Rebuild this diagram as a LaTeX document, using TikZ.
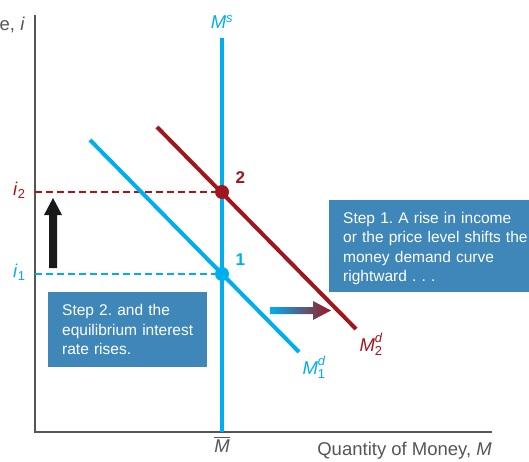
\documentclass[tikz,border=0pt]{standalone}
\usepackage{amsmath}
\usepackage{fontspec}
\setmainfont{Liberation Sans}
\usepackage{tikz}
\usetikzlibrary{positioning,arrows.meta}
\definecolor{sky}{HTML}{00AEEF}
\definecolor{wine}{HTML}{A0151E}
\definecolor{slate}{HTML}{3F87B8}
\definecolor{axisgray}{HTML}{555555}
\newcommand{\itl}[1]{\textit{#1}}
\frenchspacing

\tikzset{
  axisline/.style={line width=1.3pt, axisgray},
  curve/.style={line width=4pt},
  guide/.style={line width=1.2pt, dash pattern=on 7pt off 4pt},
  dot/.style={circle, inner sep=0pt, minimum size=14pt},
  stepbox/.style={fill=slate, text=white, align=left, anchor=north west, inner xsep=14pt, inner ysep=8pt, font=\fontsize{15.5}{19.5}\selectfont}
}

\begin{document}
\begin{tikzpicture}[x=1pt, y=-1pt, >=Latex, font=\fontsize{18.5}{22}\selectfont, node distance=3pt]
    \useasboundingbox (0,0) rectangle (529,462);
    % axes
    \coordinate (origin) at (35,432);
    \coordinate (ytop) at (35,15);
    \coordinate (xend) at (492,432);
    \draw[axisline] (ytop) -- (origin) -- (xend);
    \node[anchor=east, text=axisgray, inner xsep=1pt] (ylab) at (26,25) {e, \itl{i}};
    \node[anchor=east, text=axisgray, inner xsep=0pt] (xlab) at (492,451) {Quantity of Money, \itl{M}};

    % curves
    \coordinate (d1top) at (90,140);
    \coordinate (d1bot) at (299,352);
    \coordinate (d2top) at (157,127);
    \coordinate (d2bot) at (356,329);
    \coordinate (mstop) at (222,38);
    \coordinate (msbot) at (222,432);
    \node[dot] (p1) at (222,274) {};
    \node[dot] (p2) at (222,192) {};
    \draw[guide, wine!85!red] (origin |- p2) -- (p2);
    \draw[guide, sky] (origin |- p1) -- (p1);
    \draw[curve, sky] (d1top) -- (d1bot);
    \draw[curve, wine] (d2top) -- (d2bot);
    \draw[curve, sky] (mstop) -- (msbot);
    \node[dot, fill=sky] at (p1) {};
    \node[dot, fill=wine] at (p2) {};

    % labels
    \node[above=6pt of mstop, text=sky] (mslab) {\itl{M}\textsuperscript{\itl{s}}};
    \node[below=1pt of msbot, text=axisgray] (mbar) {$\overline{\itl{M}}$};
    \node[anchor=east, text=wine!85!red] (i2lab) at (29,190) {\itl{i}\textsubscript{2}};
    \node[anchor=east, text=sky] (i1lab) at (29,272) {\itl{i}\textsubscript{1}};
    \node[above right=0pt and 5pt of p2, text=wine, font=\fontsize{17}{20}\bfseries] (n2) {2};
    \node[above right=0pt and 5pt of p1, text=sky, font=\fontsize{17}{20}\bfseries] (n1) {1};
    \node[below right=1pt and 0pt of d2bot, text=wine] (d2lab) {$\itl{M}^{\itl{d}}_{\text{2}}$};
    \node[below right=1pt and 0pt of d1bot, text=sky] (d1lab) {$\itl{M}^{\itl{d}}_{\text{1}}$};

    % shift arrows
    \shade[left color=sky, right color=wine] (270,307) -- (313,307) -- (313,301) -- (331,310.5)
      -- (313,320) -- (313,314) -- (270,314) -- cycle;
    \fill[black!90] (49,268) -- (49,215) -- (44,215) -- (53,198) -- (62,215) -- (57,215) -- (57,268) -- cycle;

    % step boxes
    \node[stepbox, inner ysep=7pt, minimum width=199pt, minimum height=90pt, text width=185pt] (step1) at (329,200)
      {\rule{0pt}{16pt}Step 1. A rise in income\\ or the price level shifts the\\ money demand curve\\ rightward . . .};
    \node[stepbox, minimum width=159pt, minimum height=75pt, text width=131pt] (step2) at (48,292)
      {Step 2. and the\\ equilibrium interest\\ rate rises.};
  \end{tikzpicture}
\end{document}
